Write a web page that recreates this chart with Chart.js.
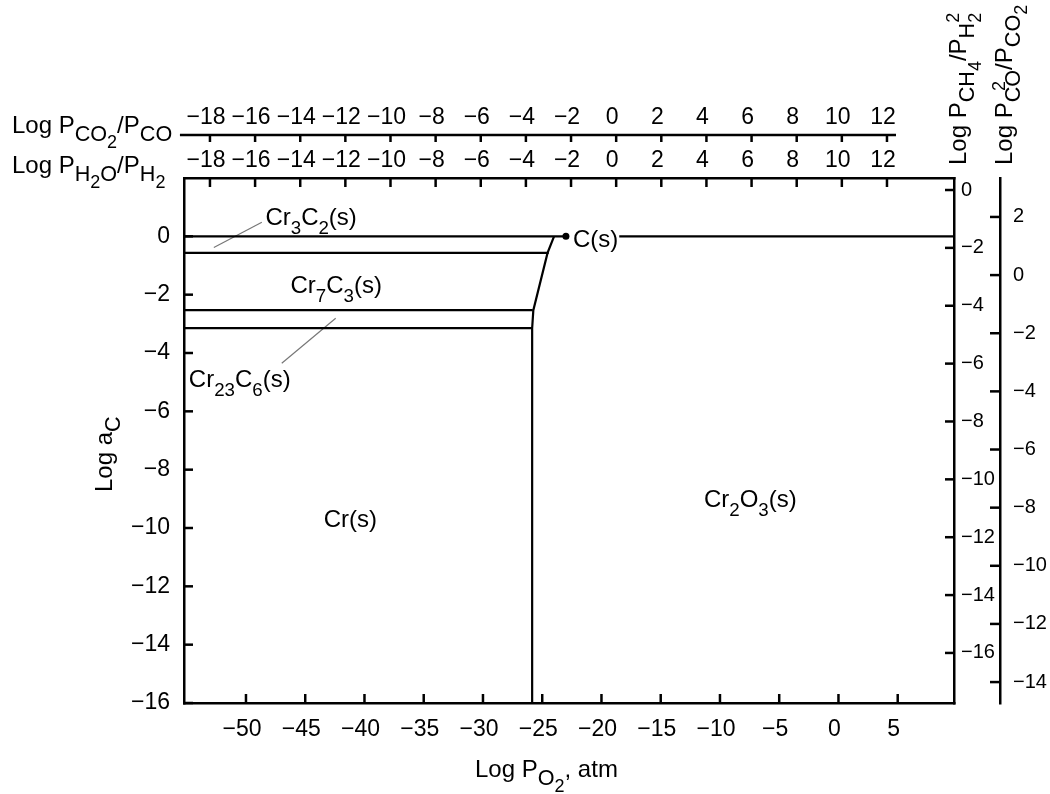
<!DOCTYPE html>
<html>
<head>
<meta charset="utf-8">
<title>Cr-C-O stability diagram</title>
<script src="https://cdn.jsdelivr.net/npm/chart.js@4.4.1/dist/chart.umd.min.js"></script>
<style>
  html, body { margin: 0; padding: 0; background: #fff; }
  canvas { display: block; }
</style>
</head>
<body>
<canvas id="chart" width="1050" height="794"></canvas>
<script>
// axis ranges (log units)
const pO2Range = [-55.23, 9.75];
const aCRange = [-16, 2];
const h2oRange = [-19.15, 14.97];
const co2Range = [-19.15, 14.97];
const co2Span = [-19.33, 12.4];
const ch4Range = [-17.73, 0.415];
const coRange = [-14.72, 3.34];

// tick values
const pO2Ticks = [-50, -45, -40, -35, -30, -25, -20, -15, -10, -5, 0, 5];
const aCTicks = [0, -2, -4, -6, -8, -10, -12, -14, -16];
const ratioTicks = [-18, -16, -14, -12, -10, -8, -6, -4, -2, 0, 2, 4, 6, 8, 10, 12];
const ch4Ticks = [0, -2, -4, -6, -8, -10, -12, -14, -16];
const coTicks = [2, 0, -2, -4, -6, -8, -10, -12, -14];

// phase boundaries, [log PO2, log aC]
const graphiteLeft = [[-55.23, 0], [-23.0, 0]];
const graphiteRight = [[-18.5, 0], [9.75, 0]];
const graphitePoint = [[-23.0, 0]];
const cr3c2Cr7c3 = [[-55.23, -0.57], [-24.45, -0.57]];
const cr7c3Cr23c6 = [[-55.23, -2.53], [-25.8, -2.53]];
const cr23c6Cr = [[-55.23, -3.15], [-25.85, -3.15]];
const oxideEdge = [[-25.85, -16], [-25.85, -3.15], [-25.75, -2.53], [-24.55, -0.57], [-24.0, 0]];
const leaderCr3C2 = [[-48.66, 0.48], [-52.71, -0.38]];
const leaderCr23C6 = [[-46.98, -4.35], [-42.43, -2.81]];

// phase names: anchor [log PO2, log aC] at text baseline start
const phaseNames = [
  [[-48.36, 0.38], [['Cr', 0], ['3', 1], ['C', 0], ['2', 1], ['(s)', 0]]],
  [[-46.24, -1.95], [['Cr', 0], ['7', 1], ['C', 0], ['3', 1], ['(s)', 0]]],
  [[-54.82, -5.17], [['Cr', 0], ['23', 1], ['C', 0], ['6', 1], ['(s)', 0]]],
  [[-43.44, -9.97], [['Cr(s)', 0]]],
  [[-11.35, -9.28], [['Cr', 0], ['2', 1], ['O', 0], ['3', 1], ['(s)', 0]]],
  [[-22.41, -0.38], [['C(s)', 0]]]
];

const titleCO2 = [['Log P', 0], ['CO', 1], ['2', 2], ['/P', 0], ['CO', 1]];
const titleH2O = [['Log P', 0], ['H', 1], ['2', 2], ['O', 1], ['/P', 0], ['H', 1], ['2', 2]];
const titleCH4 = [['Log P', 0], ['CH', 1], ['4', 2], ['/P', 0], ['H', 1], ['2', 2, '2']];
const titleCO = [['Log P', 0], ['CO', 1, '2'], ['/P', 0], ['CO', 1], ['2', 2]];
const titleAC = [['Log a', 0], ['C', 1]];
const titlePO2 = [['Log P', 0], ['O', 1], ['2', 2], [', atm', 0]];

const FAMILY = "'Liberation Sans', Arial, Helvetica, sans-serif";
const TITLE_LEVELS = {0: [1, 0], 1: [0.9, 0.35], 2: [0.75, 0.62], sup: [0.75, -0.3]};
const LABEL_LEVELS = {0: [1, 0], 1: [0.78, 0.36], 2: [0.7, 0.6], sup: [0.7, -0.4]};

function richText(ctx, parts, F, levels){
  let x = 0;
  parts.forEach(([txt, lvl, sup]) => {
    const [k, dy] = levels[lvl];
    ctx.font = (F * k) + 'px ' + FAMILY;
    const w = ctx.measureText(txt).width;
    ctx.fillText(txt, x, dy * F);
    let w2 = 0;
    if(sup){
      const [ks, dys] = levels.sup;
      ctx.font = (F * ks) + 'px ' + FAMILY;
      w2 = ctx.measureText(sup).width;
      ctx.fillText(sup, x + (w - w2) / 2, dys * F);
    }
    x += Math.max(w, w2);
  });
}

function drawRich(ctx, parts, x, y, F, levels, rot){
  ctx.save();
  ctx.translate(x, y);
  if(rot) ctx.rotate(rot);
  ctx.fillStyle = '#000';
  ctx.textAlign = 'left';
  ctx.textBaseline = 'alphabetic';
  richText(ctx, parts, F, levels);
  ctx.restore();
}

const minus = v => String(v).replace('-', '\u2212');

function axis(position, range, ticks, size, weight, pad, fontSize, extra){
  const horiz = position === 'top' || position === 'bottom';
  return Object.assign({
    type: 'linear',
    axis: horiz ? 'x' : 'y',
    position: position,
    weight: weight,
    min: range[0],
    max: range[1],
    afterBuildTicks: s => { s.ticks = ticks.map(v => ({value: v})); },
    afterFit: s => { if(horiz) s.height = size; else s.width = size; },
    grid: {display: false, drawTicks: false, tickLength: 0, lineWidth: 2.5},
    border: {display: true, color: '#000', width: 2.5},
    ticks: {font: {family: FAMILY, size: fontSize}, color: '#000', padding: pad, autoSkip: false,
            maxRotation: 0, minRotation: 0, labelOffset: horiz ? -4 : 0, callback: minus}
  }, extra || {});
}

function line(pts, extra){
  return Object.assign({
    data: pts.map(p => ({x: p[0], y: p[1]})),
    borderColor: '#000',
    backgroundColor: '#000',
    borderWidth: 2.2,
    pointRadius: 0,
    showLine: true,
    fill: false,
    tension: 0,
    xAxisID: 'x',
    yAxisID: 'y'
  }, extra || {});
}

// tick marks point inward: [direction, length]
const tickMarks = {x: ['up', 9], y: ['right', 9], h2o: ['down', 9], co2: ['down', 7], ch4: ['left', 9], co: ['left', 10]};

const extras = {
  id: 'extras',
  afterDraw(chart){
    const ctx = chart.ctx;
    const area = chart.chartArea;
    ctx.save();
    ctx.strokeStyle = '#000';
    ctx.lineWidth = 2.5;

    Object.keys(tickMarks).forEach(id => {
      const s = chart.scales[id];
      const [dir, len] = tickMarks[id];
      s.ticks.forEach(t => {
        const p = s.getPixelForValue(t.value);
        ctx.beginPath();
        if(dir === 'up'){ ctx.moveTo(p, s.top); ctx.lineTo(p, s.top - len); }
        if(dir === 'down'){ ctx.moveTo(p, s.bottom); ctx.lineTo(p, s.bottom + len); }
        if(dir === 'right'){ ctx.moveTo(s.right, p); ctx.lineTo(s.right + len, p); }
        if(dir === 'left'){ ctx.moveTo(s.left, p); ctx.lineTo(s.left - len, p); }
        ctx.stroke();
      });
    });

    // outer top axis line
    const co2 = chart.scales.co2;
    ctx.beginPath();
    ctx.moveTo(co2.getPixelForValue(co2Span[0]), co2.bottom);
    ctx.lineTo(co2.getPixelForValue(co2Span[1]), co2.bottom);
    ctx.stroke();
    ctx.restore();

    // phase names
    const xs = chart.scales.x, ys = chart.scales.y;
    phaseNames.forEach(([pos, parts]) => {
      drawRich(ctx, parts, xs.getPixelForValue(pos[0]), ys.getPixelForValue(pos[1]), 24, LABEL_LEVELS);
    });

    // axis titles
    drawRich(ctx, titleCO2, 12, co2.bottom - 2, 24, TITLE_LEVELS);
    drawRich(ctx, titleH2O, 12, chart.scales.h2o.bottom - 5, 24, TITLE_LEVELS);
    drawRich(ctx, titleCH4, chart.scales.ch4.left + 12, area.top - 13, 24, TITLE_LEVELS, -Math.PI / 2);
    drawRich(ctx, titleCO, chart.scales.co.left + 12, area.top - 13, 24, TITLE_LEVELS, -Math.PI / 2);
    drawRich(ctx, titleAC, 112, 492, 24, TITLE_LEVELS, -Math.PI / 2);
    drawRich(ctx, titlePO2, 475, 777, 24, TITLE_LEVELS);
  }
};

Chart.defaults.font.family = FAMILY;
Chart.defaults.color = '#000';

new Chart(document.getElementById('chart'), {
  type: 'scatter',
  data: {
    datasets: [
      line(graphiteLeft),
      line(graphiteRight),
      line(graphitePoint, {showLine: false, pointRadius: 3.5, pointBorderWidth: 0}),
      line(cr3c2Cr7c3),
      line(cr7c3Cr23c6),
      line(cr23c6Cr),
      line(oxideEdge),
      line(leaderCr3C2, {borderColor: '#777', borderWidth: 1.2}),
      line(leaderCr23C6, {borderColor: '#777', borderWidth: 1.2})
    ]
  },
  options: {
    responsive: false,
    animation: false,
    events: [],
    layout: {padding: 0},
    plugins: {legend: {display: false}, title: {display: false}, tooltip: {enabled: false}},
    scales: {
      x: axis('bottom', pO2Range, pO2Ticks, 91, 0, 13, 23),
      y: axis('left', aCRange, aCTicks, 184, 0, 14, 23),
      h2o: axis('top', h2oRange, ratioTicks, 43, 0, 4, 23),
      co2: axis('top', co2Range, ratioTicks, 135, 1, 4, 23, {border: {display: false}}),
      ch4: axis('right', ch4Range, ch4Ticks, 46, 0, 7, 20),
      co: axis('right', coRange, coTicks, 50, 1, 13, 20)
    }
  },
  plugins: [extras]
});
</script>
</body>
</html>
